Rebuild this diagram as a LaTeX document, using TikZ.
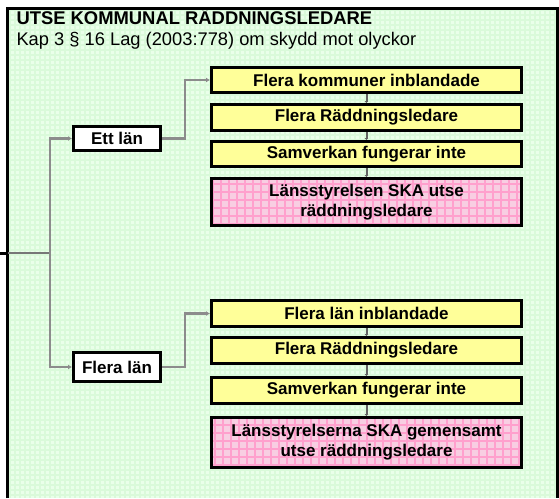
\documentclass[tikz,border=0pt]{standalone}
\usepackage{fontspec}
\setmainfont{Liberation Sans}
\usetikzlibrary{arrows.meta}

\definecolor{bggreen}{RGB}{234,255,234}
\definecolor{gridgreen}{RGB}{218,250,218}
\definecolor{boxyellow}{RGB}{255,255,153}
\definecolor{boxpink}{RGB}{248,206,226}
\definecolor{pinkline}{RGB}{255,160,205}
\definecolor{linegray}{RGB}{140,140,140}

\begin{document}
\begin{tikzpicture}[x=1pt,y=-1pt,
    lan/.style={rectangle, draw, line width=3pt, fill=white, minimum width=87pt, minimum height=24pt, inner sep=0pt, font=\fontsize{17}{20}\selectfont\bfseries},
    steg/.style={rectangle, draw, line width=3pt, fill=boxyellow, minimum width=310pt, minimum height=25pt, inner sep=0pt, font=\fontsize{17}{20}\selectfont\bfseries},
    beslut/.style={steg, fill=boxpink, align=center, path picture={\draw[pinkline, line width=1.8pt, step=8pt] (path picture bounding box.south west) grid (path picture bounding box.north east);}},
    conn/.style={draw=linegray, line width=2.5pt, -{Latex[length=4pt,width=5pt]}},
    tick/.style={draw=linegray!70!black, line width=2pt, -{Latex[length=2pt,width=4pt]}}]
    \useasboundingbox (0,0) rectangle (559,498);
    % bakgrund och ram
    \fill[bggreen] (7,9) rectangle (559,498);
    \draw[gridgreen, line width=1.5pt, step=5pt] (7,9) grid (559,498);
    \draw[line width=3pt] (7.5,498) -- (7.5,8.5) -- (557,8.5) -- (557,498);
    \node[anchor=west, font=\fontsize{18.4}{20}\selectfont\bfseries] (rubrik) at (13,17) {UTSE KOMMUNAL RÄDDNINGSLEDARE};
    \node[anchor=west, font=\fontsize{18.3}{20}\selectfont] (lag) at (13,41) {Kap 3 § 16 Lag (2003:778) om skydd mot olyckor};

    % ett län
    \node[lan] (ett) at (117,138.5) {Ett län};
    \node[steg] (e1) at (366.5,80) {Flera kommuner inblandade};
    \node[steg, minimum height=26pt] (e2) at (366.5,117.5) {Flera Räddningsledare};
    \node[steg] (e3) at (366.5,154) {Samverkan fungerar inte};
    \node[beslut, minimum height=47pt] (e4) at (366.5,202) {Länsstyrelsen SKA utse\\räddningsledare};

    % flera län
    \node[lan, minimum height=29pt] (flera) at (117,367) {Flera län};
    \node[steg, minimum height=26pt] (f1) at (366.5,313.5) {Flera län inblandade};
    \node[steg, minimum height=26pt] (f2) at (366.5,350.5) {Flera Räddningsledare};
    \node[steg, minimum height=26pt] (f3) at (366.5,390.5) {Samverkan fungerar inte};
    \node[beslut, minimum height=50pt] (f4) at (366.5,442.5) {Länsstyrelserna SKA gemensamt\\utse räddningsledare};

    % förbindelser
    \coordinate (in) at (0,253);
    \coordinate (gren) at (50,253);
    \draw[line width=3pt] (in) -- (8,253);
    \draw[draw=linegray!85!black, line width=2.5pt] (8,253) -- (gren);
    \draw[conn] (gren) |- (ett.west);
    \draw[conn] (gren) |- (flera.west);
    \draw[conn] (ett.east) -- ++(23,0) |- (e1.west);
    \draw[conn] (flera.east) -- ++(23,0) |- (f1.west);
    \draw[tick] (e1) -- (e2);
    \draw[tick] (e2) -- (e3);
    \draw[tick] (e3) -- (e4);
    \draw[tick] (f1) -- (f2);
    \draw[tick] (f2) -- (f3);
    \draw[tick] (f3) -- (f4);
\end{tikzpicture}
\end{document}
